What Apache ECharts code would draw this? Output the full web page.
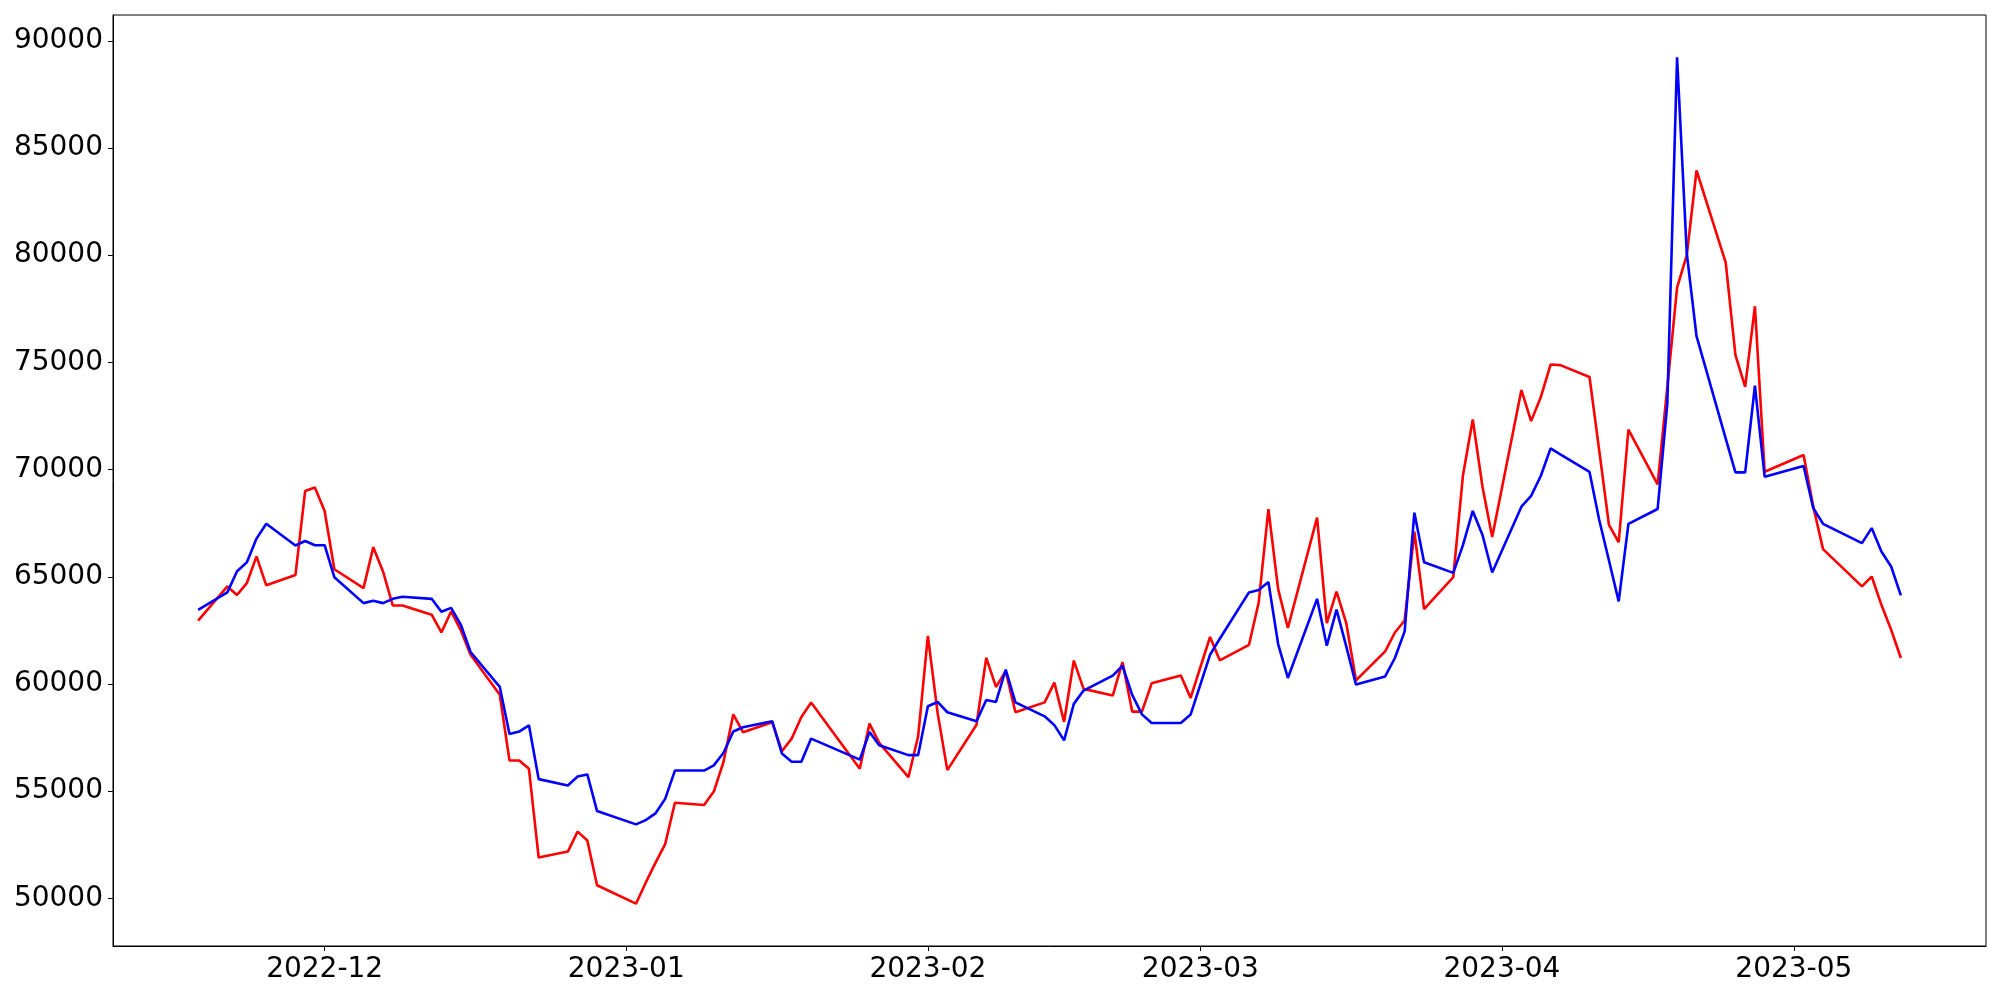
<!DOCTYPE html>
<html>
<head>
<meta charset="utf-8">
<title>chart</title>
<script src="https://cdn.jsdelivr.net/npm/echarts@6/dist/echarts.min.js"></script>
<style>
  html, body { margin: 0; padding: 0; background: #fff; }
  #chart { width: 2000px; height: 1000px; }
</style>
</head>
<body>
<div id="chart"></div>
<script>
// trading days (no weekends / market holidays)
const dates = [
  '2022-11-18', '2022-11-21', '2022-11-22', '2022-11-23', '2022-11-24', '2022-11-25',
  '2022-11-28', '2022-11-29', '2022-11-30', '2022-12-01', '2022-12-02',
  '2022-12-05', '2022-12-06', '2022-12-07', '2022-12-08', '2022-12-09',
  '2022-12-12', '2022-12-13', '2022-12-14', '2022-12-15', '2022-12-16',
  '2022-12-19', '2022-12-20', '2022-12-21', '2022-12-22', '2022-12-23',
  '2022-12-26', '2022-12-27', '2022-12-28', '2022-12-29',
  '2023-01-02', '2023-01-03', '2023-01-04', '2023-01-05', '2023-01-06',
  '2023-01-09', '2023-01-10', '2023-01-11', '2023-01-12', '2023-01-13',
  '2023-01-16', '2023-01-17', '2023-01-18', '2023-01-19', '2023-01-20',
  '2023-01-25', '2023-01-26', '2023-01-27', '2023-01-30', '2023-01-31',
  '2023-02-01', '2023-02-02', '2023-02-03', '2023-02-06', '2023-02-07',
  '2023-02-08', '2023-02-09', '2023-02-10', '2023-02-13', '2023-02-14',
  '2023-02-15', '2023-02-16', '2023-02-17', '2023-02-20', '2023-02-21',
  '2023-02-22', '2023-02-23', '2023-02-24', '2023-02-27', '2023-02-28',
  '2023-03-02', '2023-03-03', '2023-03-06', '2023-03-07', '2023-03-08',
  '2023-03-09', '2023-03-10', '2023-03-13', '2023-03-14', '2023-03-15',
  '2023-03-16', '2023-03-17', '2023-03-20', '2023-03-21', '2023-03-22',
  '2023-03-23', '2023-03-24', '2023-03-27', '2023-03-28', '2023-03-29',
  '2023-03-30', '2023-03-31', '2023-04-03', '2023-04-04', '2023-04-05',
  '2023-04-06', '2023-04-07', '2023-04-10', '2023-04-11', '2023-04-12',
  '2023-04-13', '2023-04-14', '2023-04-17', '2023-04-18', '2023-04-19',
  '2023-04-20', '2023-04-21', '2023-04-24', '2023-04-25', '2023-04-26',
  '2023-04-27', '2023-04-28', '2023-05-02', '2023-05-03', '2023-05-04',
  '2023-05-08', '2023-05-09', '2023-05-10', '2023-05-11', '2023-05-12'
];

const redValues = [
  62950, 64550, 64150, 64700, 65950, 64600,
  65080, 69000, 69160, 68070, 65350,
  64470, 66380, 65250, 63660, 63660,
  63230, 62400, 63380, 62500, 61360,
  59500, 56430, 56430, 56040, 51900,
  52180, 53110, 52700, 50610,
  49750, 50730, 51650, 52530, 54460,
  54350, 54980, 56370, 58580, 57750,
  58210, 56860, 57450, 58460, 59130,
  56040, 58150, 57250, 55650, 57560,
  62240, 58650, 55980, 58100, 61220,
  59860, 60590, 58680, 59140, 60060,
  58230, 61090, 59770, 59460, 61020,
  58710, 58710, 60030, 60390, 59350,
  62190, 61100, 61820, 63800, 68150,
  64420, 62610, 67760, 62840, 64310,
  62840, 60170, 61520, 62400, 62960,
  67100, 63490, 64980, 69750, 72340,
  69200, 66850, 73710, 72260, 73390,
  74900, 74870, 74320, 70880, 67420,
  66610, 71860, 69310, 73860, 78490,
  80000, 83950, 79650, 75340, 73860,
  77620, 69900, 70680, 68270, 66290,
  64550, 65010, 63690, 62530, 61210
];

const blueValues = [
  63450, 64270, 65260, 65670, 66780, 67470,
  66460, 66670, 66470, 66470, 64980,
  63770, 63880, 63770, 63970, 64070,
  63970, 63370, 63550, 62760, 61490,
  59860, 57670, 57780, 58070, 55560,
  55260, 55680, 55780, 54070,
  53450, 53650, 53960, 54640, 55960,
  55960, 56200, 56790, 57780, 57980,
  58260, 56750, 56370, 56370, 57450,
  56470, 57760, 57140, 56680, 56680,
  58960, 59160, 58680, 58260, 59250,
  59160, 60670, 59140, 58490, 58080,
  57370, 59070, 59690, 60390, 60850,
  59490, 58580, 58180, 58180, 58570,
  61360, 62110, 64270, 64380, 64750,
  61860, 60280, 63970, 61780, 63470,
  61750, 59970, 60350, 61210, 62450,
  67990, 65680, 65180, 66490, 68070,
  66950, 65200, 68270, 68770, 69710,
  70990, 70710, 69890, 67650, 65760,
  63850, 67470, 68160, 73090, 89230,
  80070, 76220, 71440, 69870, 69870,
  73910, 69670, 70170, 68200, 67470,
  66570, 67270, 66180, 65480, 64130
];

const toTime = s => new Date(s + 'T00:00:00').getTime();
const times = dates.map(toTime);

// matplotlib-like 5% margins
const tSpan = times[times.length - 1] - times[0];
const xMin = times[0] - 0.05 * tSpan;
const xMax = times[times.length - 1] + 0.05 * tSpan;
const allVals = redValues.concat(blueValues);
const vLo = Math.min(...allVals), vHi = Math.max(...allVals);
const yMin = vLo - 0.05 * (vHi - vLo);
const yMax = vHi + 0.05 * (vHi - vLo);

const font = 'DejaVu Sans';
const chart = echarts.init(document.getElementById('chart'));

chart.setOption({
  animation: false,
  backgroundColor: '#fff',
  grid: {
    left: 113, right: 14, top: 15, bottom: 54,
    show: true, borderColor: '#000', borderWidth: 1, backgroundColor: 'transparent'
  },
  xAxis: {
    type: 'time',
    min: xMin,
    max: xMax,
    minInterval: 28 * 86400000,
    maxInterval: 31 * 86400000,
    splitLine: { show: false },
    axisLine: { show: true, lineStyle: { color: '#000', width: 1 } },
    axisTick: { show: true, length: 5, lineStyle: { color: '#000', width: 1 } },
    axisLabel: {
      color: '#000',
      fontFamily: font,
      fontSize: 28,
      margin: 10,
      showMinLabel: false,
      showMaxLabel: false,
      formatter: function (val) {
        const d = new Date(val);
        const m = d.getMonth() + 1;
        return d.getFullYear() + '-' + (m < 10 ? '0' + m : m);
      }
    }
  },
  yAxis: {
    type: 'value',
    min: yMin,
    max: yMax,
    splitNumber: 8,
    minInterval: 5000,
    maxInterval: 5000,
    splitLine: { show: false },
    axisLine: { show: true, lineStyle: { color: '#000', width: 1 } },
    axisTick: { show: true, length: 5, lineStyle: { color: '#000', width: 1 } },
    axisLabel: {
      color: '#000',
      fontFamily: font,
      fontSize: 28,
      margin: 10,
      showMinLabel: false,
      showMaxLabel: false,
      formatter: v => String(Math.round(v))
    }
  },
  series: [
    {
      name: 'red',
      type: 'line',
      showSymbol: false,
      data: times.map((t, i) => [t, redValues[i]]),
      lineStyle: { color: '#ff0000', width: 2.6 },
      itemStyle: { color: '#ff0000' }
    },
    {
      name: 'blue',
      type: 'line',
      showSymbol: false,
      data: times.map((t, i) => [t, blueValues[i]]),
      lineStyle: { color: '#0000ff', width: 2.6 },
      itemStyle: { color: '#0000ff' }
    }
  ]
})
</script>
</body>
</html>
